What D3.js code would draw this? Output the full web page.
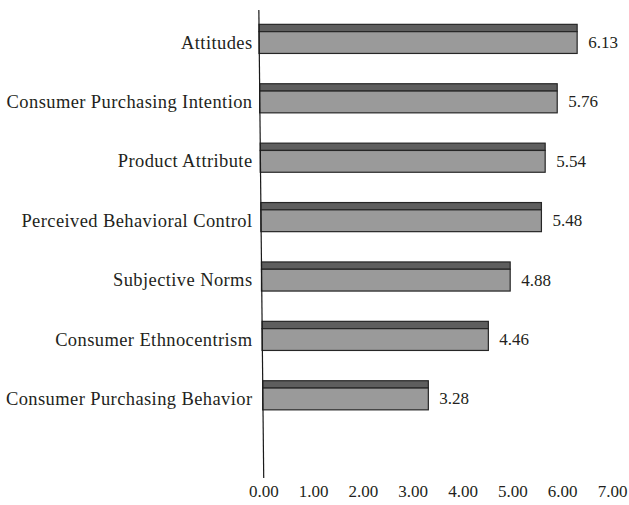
<!DOCTYPE html>
<html>
<head>
<meta charset="utf-8">
<script src="https://cdn.jsdelivr.net/npm/d3@7"></script>
<style>
  html, body { margin: 0; padding: 0; background: #fff; }
  svg text { font-family: "Liberation Serif", "Times New Roman", serif; fill: #231f20; }
</style>
</head>
<body>
<svg id="chart" width="629" height="505"></svg>
<script>
// Mean scores per construct (top to bottom)
const categories = [
  "Attitudes",
  "Consumer Purchasing Intention",
  "Product Attribute",
  "Perceived Behavioral Control",
  "Subjective Norms",
  "Consumer Ethnocentrism",
  "Consumer Purchasing Behavior"
];
const values = [6.13, 5.76, 5.54, 5.48, 4.88, 4.46, 3.28];
const tickValues = [0, 1, 2, 3, 4, 5, 6, 7];

const svg = d3.select("#chart");
const fontSize = 17;
const catFontSize = 18.5;

// Vertical placement of the bars
const y = d3.scaleBand()
  .domain(categories)
  .range([9.2, 425])
  .paddingInner(0.51)
  .paddingOuter(0.255);

const topBandY = y(categories[0]);
const lastBandY = y(categories[categories.length - 1]);

// Slight perspective: the value origin and unit width drift with height
const originAt = d3.scaleLinear().domain([topBandY, lastBandY]).range([259, 262.7]);
const spanAt = d3.scaleLinear().domain([topBandY, lastBandY]).range([363.3, 353.5]);
const rowScale = cat => {
  const yy = y(cat);
  const x0 = originAt(yy);
  return d3.scaleLinear().domain([0, 7]).range([x0, x0 + spanAt(yy)]);
};

// Front axis labels along the floor
const x = d3.scaleLinear().domain([0, 7]).range([263.3, 612]);

const topDepth = 7.3;
const bw = y.bandwidth();

const rows = svg.append("g").selectAll("g.row")
  .data(categories.map((c, i) => ({ cat: c, value: values[i] })))
  .join("g")
  .attr("class", "row");

// Dark top face
rows.append("rect")
  .attr("x", d => rowScale(d.cat)(0))
  .attr("y", d => y(d.cat))
  .attr("width", d => rowScale(d.cat)(d.value) - rowScale(d.cat)(0))
  .attr("height", topDepth)
  .attr("fill", "#5e5e5e")
  .attr("stroke", "#262626")
  .attr("stroke-width", 1.2);

// Light front face
rows.append("rect")
  .attr("x", d => rowScale(d.cat)(0))
  .attr("y", d => y(d.cat) + topDepth)
  .attr("width", d => rowScale(d.cat)(d.value) - rowScale(d.cat)(0))
  .attr("height", bw - topDepth)
  .attr("fill", "#9a9a9a")
  .attr("stroke", "#262626")
  .attr("stroke-width", 1.2);

// Value labels
rows.append("text")
  .attr("x", d => rowScale(d.cat)(d.value) + 11)
  .attr("y", d => y(d.cat) + topDepth + (bw - topDepth) / 2)
  .attr("dominant-baseline", "central")
  .attr("font-size", fontSize)
  .text(d => d3.format(".2f")(d.value));

// Category labels
rows.append("text")
  .attr("x", 252.5)
  .attr("y", d => y(d.cat) + topDepth + (bw - topDepth) / 2)
  .attr("text-anchor", "end")
  .attr("dominant-baseline", "central")
  .attr("font-size", catFontSize)
  .attr("letter-spacing", 0.4)
  .text(d => d.cat);

// Vertical category axis line, following the origin drift
svg.append("line")
  .attr("x1", originAt(10)).attr("y1", 10)
  .attr("x2", originAt(478)).attr("y2", 478)
  .attr("stroke", "#1a1a1a")
  .attr("stroke-width", 1.2);

// Value axis tick labels
const xAxis = d3.axisBottom(x)
  .tickValues(tickValues)
  .tickSize(0)
  .tickPadding(0)
  .tickFormat(d3.format(".2f"));

const gx = svg.append("g")
  .attr("transform", "translate(0,485)")
  .call(xAxis);
gx.select(".domain").remove();
gx.selectAll("text")
  .attr("font-size", fontSize)
  .attr("font-family", "Liberation Serif, Times New Roman, serif")
  .attr("fill", "#231f20");
</script>
</body>
</html>
